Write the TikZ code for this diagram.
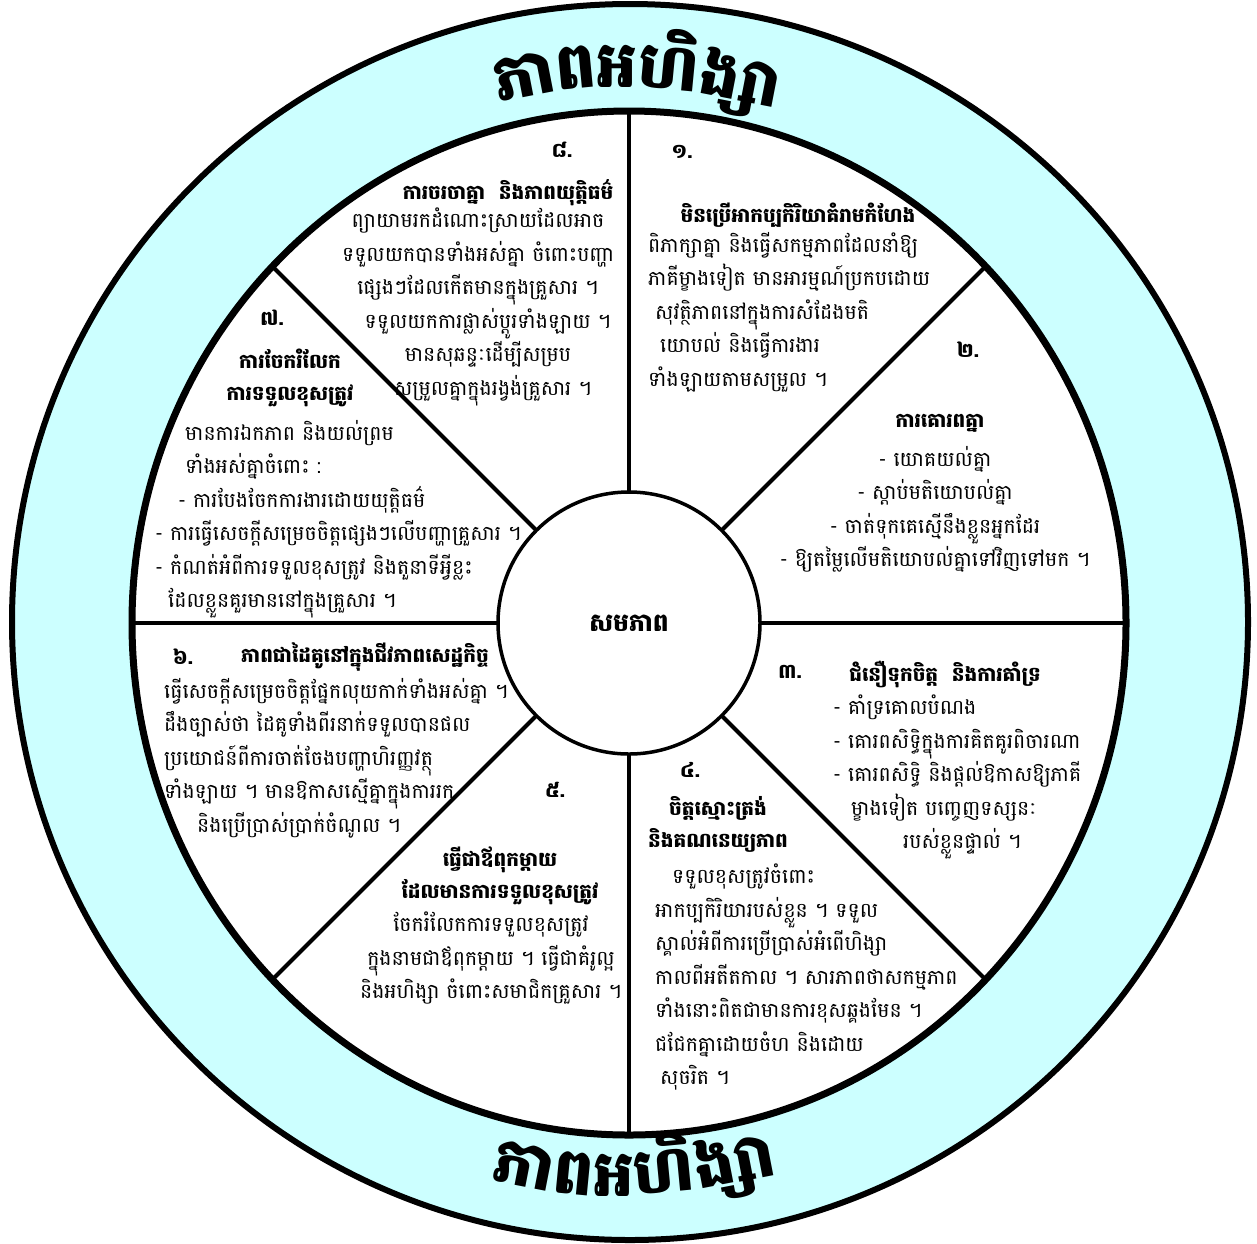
\documentclass[tikz,border=0pt]{standalone}
\usepackage{fontspec}
\newfontfamily\khmer[Script=Khmer]{Battambang}
\definecolor{ringblue}{RGB}{204,255,255}
\begin{document}
\begin{tikzpicture}[x=1pt, y=-1pt, line join=round, line cap=round,
	body/.style={font=\khmer\fontsize{20.5}{33.5}\selectfont, inner sep=0pt},
	head/.style={font=\khmer\bfseries\fontsize{20}{32}\selectfont, inner sep=0pt, align=center},
	num/.style={font=\khmer\bfseries\fontsize{20}{20}\selectfont, inner sep=0pt},
	title/.style={font=\khmer\bfseries\fontsize{64}{64}\selectfont, inner sep=0pt, text height=48pt, text depth=22pt}]
	\def\cx{629}\def\cy{623}
	\useasboundingbox (0,0) rectangle (1257,1243);
	\fill[ringblue] (630,622) circle (618pt);
	\draw[line width=6pt] (630,622) circle (618pt);
	\fill[white] (\cx,\cy) ellipse [x radius=497pt, y radius=512pt];
	\begin{scope}
		\clip (\cx,\cy) ellipse [x radius=497pt, y radius=512pt];
		\foreach \a in {0,45,...,315}\draw[line width=4pt] (\cx,\cy)--++(\a:600);
	\end{scope}
	\draw[line width=7pt] (\cx,\cy) ellipse [x radius=497pt, y radius=512pt];
	\fill[white] (\cx,\cy) circle (131pt);
	\draw[line width=3.5pt] (\cx,\cy) circle (131pt);
	\node[font=\khmer\bfseries\fontsize{25}{28}\selectfont] (eq) at (\cx,\cy) {សមភាព};
	\node[title] (tt3) at (617,74) {អ};
	\node[title, anchor=west, rotate=-5.5] (tt4) at (tt3.east) {ហិ};
	\node[title, anchor=west, rotate=-11] (tt5) at (tt4.east) {ង្សា};
	\node[title, anchor=east, rotate=5.5] (tt2) at (tt3.west) {ព};
	\node[title, anchor=east, rotate=11] (tt1) at (tt2.west) {ភា};
	\node[title] (tb3) at (614,1183) {អ};
	\node[title, anchor=west, rotate=5.5] (tb4) at (tb3.east) {ហិ};
	\node[title, anchor=west, rotate=11] (tb5) at (tb4.east) {ង្សា};
	\node[title, anchor=east, rotate=-5.5] (tb2) at (tb3.west) {ព};
	\node[title, anchor=east, rotate=-11] (tb1) at (tb2.west) {ភា};
	\node[num] (n1) at (682,152) {១.};
	\node[num] (n2) at (968,350) {២.};
	\node[num] (n3) at (790,672) {៣.};
	\node[num] (n4) at (690,770) {៤.};
	\node[num] (n5) at (555,790) {៥.};
	\node[num] (n6) at (183,657) {៦.};
	\node[num] (n7) at (272,318) {៧.};
	\node[num] (n8) at (562,150) {៨.};
	\node[head] (h1) at (798,215) {មិនប្រើអាកប្បកិរិយាគំរាមកំហែង};
	\node[head] (h2) at (940,423) {ការគោរពគ្នា};
	\node[head] (h3) at (945,675) {ជំនឿទុកចិត្ត\ \ និងការគាំទ្រ};
	\node[head] (h4) at (718,824) {ចិត្តស្មោះត្រង់\\និងគណនេយ្យភាព};
	\node[head] (h5) at (500,876) {ធ្វើជាឪពុកម្តាយ\\ដែលមានការទទួលខុសត្រូវ};
	\node[head] (h6) at (365,657) {ភាពជាដៃគូនៅក្នុងជីវភាពសេដ្ឋកិច្ច};
	\node[head] (h7) at (290,378) {ការចែករំលែក\\ការទទួលខុសត្រូវ};
	\node[head] (h8) at (508,193) {ការចរចាគ្នា\ \ និងភាពយុត្តិធម៌};
	\node[body, align=left, anchor=north west] (b1) at (648,232) {ពិភាក្សាគ្នា និងធ្វើសកម្មភាពដែលនាំឱ្យ\\ភាគីម្ខាងទៀត មានអារម្មណ៍ប្រកបដោយ\\\hspace{7pt}សុវត្ថិភាពនៅក្នុងការសំដែងមតិ\\\hspace{12pt}យោបល់ និងធ្វើការងារ\\ទាំងឡាយតាមសម្រួល ។};
	\node[body, align=center, anchor=north] (b2) at (935,446) {- យោគយល់គ្នា\\- ស្តាប់មតិយោបល់គ្នា\\- ចាត់ទុកគេស្មើនឹងខ្លួនអ្នកដែរ\\- ឱ្យតម្លៃលើមតិយោបល់គ្នាទៅវិញទៅមក ។};
	\node[body, align=left, anchor=north west] (b3) at (833,695) {- គាំទ្រគោលបំណង\\- គោរពសិទ្ធិក្នុងការគិតគូរពិចារណា\\- គោរពសិទ្ធិ និងផ្តល់ឱកាសឱ្យភាគី\\\hspace{18pt}ម្ខាងទៀត បញ្ចេញទស្សនៈ\\\hspace{70pt}របស់ខ្លួនផ្ទាល់ ។};
	\node[body, align=left, anchor=north west] (b4) at (655,864) {\hspace{17pt}ទទួលខុសត្រូវចំពោះ\\អាកប្បកិរិយារបស់ខ្លួន ។ ទទួល\\ស្គាល់អំពីការប្រើប្រាស់អំពើហិង្សា\\កាលពីអតីតកាល ។ សារភាពថាសកម្មភាព\\ទាំងនោះពិតជាមានការខុសឆ្គងមែន ។\\ជជែកគ្នាដោយចំហ និងដោយ\\\hspace{5pt}សុចរិត ។};
	\node[body, align=center, anchor=north] (b5) at (491,912) {ចែករំលែកការទទួលខុសត្រូវ\\ក្នុងនាមជាឪពុកម្តាយ ។ ធ្វើជាគំរូល្អ\\និងអហិង្សា ចំពោះសមាជិកគ្រួសារ ។};
	\node[body, align=left, anchor=north west] (b6) at (164,678) {ធ្វើសេចក្តីសម្រេចចិត្តផ្នែកលុយកាក់ទាំងអស់គ្នា ។\\ដឹងច្បាស់ថា ដៃគូទាំងពីរនាក់ទទួលបានផល\\ប្រយោជន៍ពីការចាត់ចែងបញ្ហាហិរញ្ញវត្ថុ\\ទាំងឡាយ ។ មានឱកាសស្មើគ្នាក្នុងការរក\\\hspace{33pt}និងប្រើប្រាស់ប្រាក់ចំណូល ។};
	\node[body, align=left, anchor=north west] (b7) at (155,420) {\hspace{30pt}មានការឯកភាព និងយល់ព្រម\\\hspace{30pt}ទាំងអស់គ្នាចំពោះ :\\\hspace{23pt}- ការបែងចែកការងារដោយយុត្តិធម៌\\- ការធ្វើសេចក្តីសម្រេចចិត្តផ្សេងៗលើបញ្ហាគ្រួសារ ។\\- កំណត់អំពីការទទួលខុសត្រូវ និងតួនាទីអ្វីខ្លះ\\\hspace{13pt}ដែលខ្លួនគួរមាននៅក្នុងគ្រួសារ ។};
	\node[body, align=center, anchor=north] (b8) at (478,208) {ព្យាយាមរកដំណោះស្រាយដែលអាច\\ទទួលយកបានទាំងអស់គ្នា ចំពោះបញ្ហា\\ផ្សេងៗដែលកើតមានក្នុងគ្រួសារ ។\\\hspace{20pt}ទទួលយកការផ្លាស់ប្តូរទាំងឡាយ ។\\\hspace{20pt}មានសុឆន្ទៈដើម្បីសម្រប\\\hspace{30pt}សម្រួលគ្នាក្នុងរង្វង់គ្រួសារ ។};
\end{tikzpicture}
\end{document}
